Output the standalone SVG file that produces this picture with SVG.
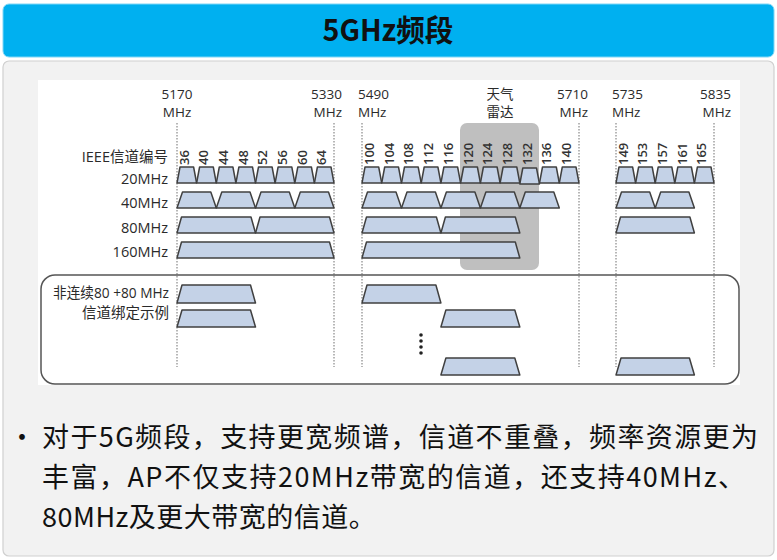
<svg xmlns="http://www.w3.org/2000/svg" width="777" height="560" viewBox="0 0 777 560">
<style>
.lbl{font-family:"Open Sans","Noto Sans CJK SC",sans-serif;font-size:13.5px;fill:#2a2a2a}
.row{font-family:"Open Sans","Noto Sans CJK SC",sans-serif;font-size:14.5px;fill:#2a2a2a;text-anchor:end}
.ch{font-family:"Open Sans",sans-serif;font-size:13px;font-weight:600;fill:#333}
.bar{fill:#c4d2e7;stroke:#404040;stroke-width:1.5;stroke-linejoin:round}
.dot{stroke:#888;stroke-width:1.2;stroke-dasharray:1.5 1.5;fill:none}
.body{font-family:"Noto Sans CJK SC",sans-serif;font-size:27px;fill:#111}
</style>
<rect x="0" y="0" width="777" height="560" fill="#ffffff"/>
<g id="header">
<rect x="3" y="4" width="771" height="53" rx="6" fill="#00b0f0" stroke="#7fd6f6" stroke-width="1"/>
<text x="388" y="41" text-anchor="middle" font-family="Noto Sans CJK SC, sans-serif" font-weight="bold" font-size="30" textLength="131" lengthAdjust="spacingAndGlyphs" fill="#111">5GHz频段</text>
</g>
<g id="panel">
<rect x="3" y="61" width="771" height="495" rx="6" fill="#f2f2f2" stroke="#d0d0d0" stroke-width="1.2"/>
<rect x="38" y="80" width="702" height="305" fill="#ffffff"/>
</g>
<g id="radar">
<rect x="460" y="123" width="79" height="147" rx="7" fill="#bfbfbf"/>
<text class="lbl" x="500" y="99" text-anchor="middle">天气</text>
<text class="lbl" x="500" y="117" text-anchor="middle">雷达</text>
</g>
<g id="freq-labels">
<text class="lbl" x="177" y="99" text-anchor="middle">5170</text>
<text class="lbl" x="177" y="117" text-anchor="middle">MHz</text>
<text class="lbl" x="342" y="99" text-anchor="end">5330</text>
<text class="lbl" x="342" y="117" text-anchor="end">MHz</text>
<text class="lbl" x="358" y="99">5490</text>
<text class="lbl" x="358" y="117">MHz</text>
<text class="lbl" x="588" y="99" text-anchor="end">5710</text>
<text class="lbl" x="588" y="117" text-anchor="end">MHz</text>
<text class="lbl" x="612" y="99">5735</text>
<text class="lbl" x="612" y="117">MHz</text>
<text class="lbl" x="731" y="99" text-anchor="end">5835</text>
<text class="lbl" x="731" y="117" text-anchor="end">MHz</text>
</g>
<g id="connectors">
<line class="dot" x1="177" y1="123" x2="177" y2="367"/>
<line class="dot" x1="334" y1="123" x2="334" y2="367"/>
<line class="dot" x1="362" y1="123" x2="362" y2="367"/>
<line class="dot" x1="579" y1="123" x2="579" y2="367"/>
<line class="dot" x1="616" y1="123" x2="616" y2="367"/>
<line class="dot" x1="714" y1="123" x2="714" y2="367"/>
</g>
<g id="row-labels">
<text class="row" x="168" y="162">IEEE信道编号</text>
<text class="row" x="168" y="184">20MHz</text>
<text class="row" x="168" y="208">40MHz</text>
<text class="row" x="168" y="233">80MHz</text>
<text class="row" x="168" y="257">160MHz</text>
</g>
<g id="channel-numbers">
<text class="ch" transform="translate(189,165) rotate(-90)">36</text>
<text class="ch" transform="translate(208.4,165) rotate(-90)">40</text>
<text class="ch" transform="translate(228.1,165) rotate(-90)">44</text>
<text class="ch" transform="translate(247.7,165) rotate(-90)">48</text>
<text class="ch" transform="translate(267.3,165) rotate(-90)">52</text>
<text class="ch" transform="translate(286.9,165) rotate(-90)">56</text>
<text class="ch" transform="translate(306.6,165) rotate(-90)">60</text>
<text class="ch" transform="translate(326.2,165) rotate(-90)">64</text>
<text class="ch" transform="translate(373.9,165) rotate(-90)">100</text>
<text class="ch" transform="translate(393.6,165) rotate(-90)">104</text>
<text class="ch" transform="translate(413.3,165) rotate(-90)">108</text>
<text class="ch" transform="translate(433,165) rotate(-90)">112</text>
<text class="ch" transform="translate(452.7,165) rotate(-90)">116</text>
<text class="ch" transform="translate(472.5,165) rotate(-90)">120</text>
<text class="ch" transform="translate(492.2,165) rotate(-90)">124</text>
<text class="ch" transform="translate(511.9,165) rotate(-90)">128</text>
<text class="ch" transform="translate(531.6,165) rotate(-90)">132</text>
<text class="ch" transform="translate(551.3,165) rotate(-90)">136</text>
<text class="ch" transform="translate(571,165) rotate(-90)">140</text>
<text class="ch" transform="translate(627.8,165) rotate(-90)">149</text>
<text class="ch" transform="translate(647.4,165) rotate(-90)">153</text>
<text class="ch" transform="translate(667,165) rotate(-90)">157</text>
<text class="ch" transform="translate(686.6,165) rotate(-90)">161</text>
<text class="ch" transform="translate(706.2,165) rotate(-90)">165</text>
</g>
<g id="bars-20">
<polygon class="bar" points="177,183 180,167 193.6,167 196.6,183"/>
<polygon class="bar" points="196.6,183 199.6,167 213.3,167 216.3,183"/>
<polygon class="bar" points="216.3,183 219.3,167 232.9,167 235.9,183"/>
<polygon class="bar" points="235.9,183 238.9,167 252.5,167 255.5,183"/>
<polygon class="bar" points="255.5,183 258.5,167 272.1,167 275.1,183"/>
<polygon class="bar" points="275.1,183 278.1,167 291.8,167 294.8,183"/>
<polygon class="bar" points="294.8,183 297.8,167 311.4,167 314.4,183"/>
<polygon class="bar" points="314.4,183 317.4,167 331,167 334,183"/>
<polygon class="bar" points="362,183 365,167 378.7,167 381.7,183"/>
<polygon class="bar" points="381.7,183 384.7,167 398.5,167 401.5,183"/>
<polygon class="bar" points="401.5,183 404.5,167 418.2,167 421.2,183"/>
<polygon class="bar" points="421.2,183 424.2,167 437.9,167 440.9,183"/>
<polygon class="bar" points="440.9,183 443.9,167 457.6,167 460.6,183"/>
<polygon class="bar" points="460.6,183 463.6,167 477.4,167 480.4,183"/>
<polygon class="bar" points="480.4,183 483.4,167 497.1,167 500.1,183"/>
<polygon class="bar" points="500.1,183 503.1,167 516.8,167 519.8,183"/>
<polygon class="bar" points="519.8,184 522.8,168 536.5,168 539.5,184"/>
<polygon class="bar" points="539.5,183 542.5,167 556.3,167 559.3,183"/>
<polygon class="bar" points="559.3,183 562.3,167 576,167 579,183"/>
<polygon class="bar" points="616,183 619,167 632.6,167 635.6,183"/>
<polygon class="bar" points="635.6,183 638.6,167 652.2,167 655.2,183"/>
<polygon class="bar" points="655.2,183 658.2,167 671.8,167 674.8,183"/>
<polygon class="bar" points="674.8,183 677.8,167 691.4,167 694.4,183"/>
<polygon class="bar" points="694.4,183 697.4,167 711,167 714,183"/>
</g>
<g id="bars-40">
<polygon class="bar" points="177,208 182.5,192 210.8,192 216.3,208"/>
<polygon class="bar" points="216.3,208 221.8,192 250,192 255.5,208"/>
<polygon class="bar" points="255.5,208 261,192 289.3,192 294.8,208"/>
<polygon class="bar" points="294.8,208 300.3,192 328.5,192 334,208"/>
<polygon class="bar" points="362,208 367.5,192 396,192 401.5,208"/>
<polygon class="bar" points="401.5,208 407,192 435.4,192 440.9,208"/>
<polygon class="bar" points="440.9,208 446.4,192 474.9,192 480.4,208"/>
<polygon class="bar" points="480.4,208 485.9,192 514.3,192 519.8,208"/>
<polygon class="bar" points="519.8,208 525.3,192 553.8,192 559.3,208"/>
<polygon class="bar" points="616,208 621.5,192 649.7,192 655.2,208"/>
<polygon class="bar" points="655.2,208 660.7,192 688.9,192 694.4,208"/>
</g>
<g id="bars-80">
<polygon class="bar" points="177,233 181.5,217 251,217 255.5,233"/>
<polygon class="bar" points="255.5,233 260,217 329.5,217 334,233"/>
<polygon class="bar" points="362,233 366.5,217 436.4,217 440.9,233"/>
<polygon class="bar" points="440.9,233 445.4,217 515.3,217 519.8,233"/>
<polygon class="bar" points="616,233 620.5,217 689.9,217 694.4,233"/>
</g>
<g id="bars-160">
<polygon class="bar" points="177,258 181.5,242 329.5,242 334,258"/>
<polygon class="bar" points="362,258 366.5,242 515.3,242 519.8,258"/>
</g>
<g id="example-box">
<rect x="41" y="275" width="698" height="109" rx="14" fill="none" stroke="#555" stroke-width="1.5"/>
<text class="row" x="169" y="298" font-size="13" textLength="116" lengthAdjust="spacingAndGlyphs">非连续80 +80 MHz</text>
<text class="row" x="169" y="318" font-size="13.5">信道绑定示例</text>
<polygon class="bar" points="177,303 182,285 250.5,285 255.5,303"/>
<polygon class="bar" points="362,303 367,285 435.9,285 440.9,303"/>
<polygon class="bar" points="177,327 182,310 250.5,310 255.5,327"/>
<polygon class="bar" points="440.9,327 445.9,310 514.8,310 519.8,327"/>
<circle cx="421" cy="335" r="1.8" fill="#222"/>
<circle cx="421" cy="341" r="1.8" fill="#222"/>
<circle cx="421" cy="347" r="1.8" fill="#222"/>
<circle cx="421" cy="353" r="1.8" fill="#222"/>
<polygon class="bar" points="440.9,375 445.9,358 514.8,358 519.8,375"/>
<polygon class="bar" points="616,375 621,358 689.4,358 694.4,375"/>
</g>
<g id="bullet-text">
<text class="body" x="22" y="447" text-anchor="middle" font-size="20">•</text>
<text class="body" x="42" y="447" textLength="716" lengthAdjust="spacing">对于5G频段，支持更宽频谱，信道不重叠，频率资源更为</text>
<text class="body" x="42" y="487" textLength="703" lengthAdjust="spacing">丰富，AP不仅支持20MHz带宽的信道，还支持40MHz、</text>
<text class="body" x="42" y="527" letter-spacing="0.5">80MHz及更大带宽的信道。</text>
</g>
</svg>
